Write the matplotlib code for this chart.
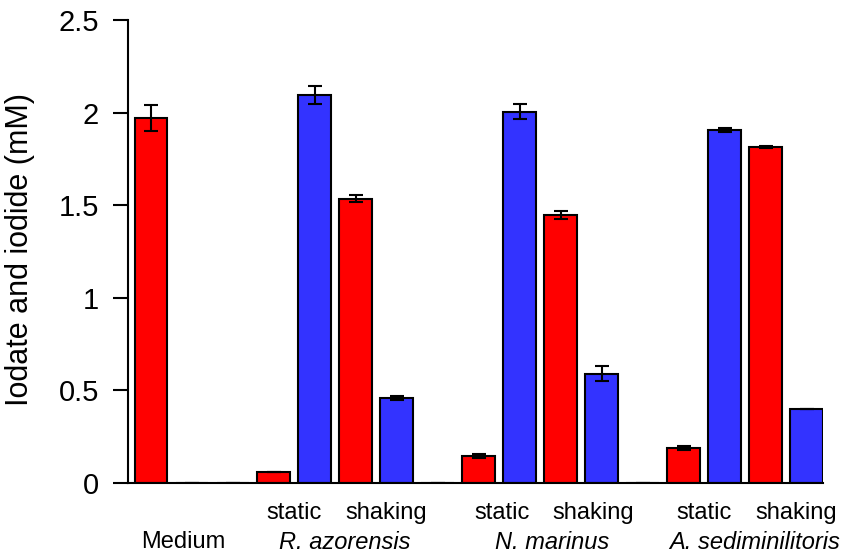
import matplotlib.pyplot as plt
import numpy as np

plt.rcParams['font.family'] = ['Liberation Sans', 'DejaVu Sans']

# one slot per bar, zero-height slots are the gaps between groups
values = [1.97, 0.0, 0.0,
          0.06, 2.095, 1.535, 0.46, 0.0,
          0.145, 2.005, 1.447, 0.59, 0.0,
          0.19, 1.905, 1.812, 0.40]
errors = [0.07, 0.0, 0.0,
          0.0, 0.05, 0.02, 0.01, 0.0,
          0.01, 0.04, 0.02, 0.04, 0.0,
          0.01, 0.01, 0.005, 0.0]
colors = ["red", "blue", "blue",
          "red", "blue", "red", "blue", "blue",
          "red", "blue", "red", "blue", "blue",
          "red", "blue", "red", "blue"]
cond_labels = ["static", "shaking", "static", "shaking", "static", "shaking"]
cond_pos = [3.5, 5.73, 8.57, 10.78, 13.5, 15.75]
group_labels = ["Medium", "R. azorensis", "N. marinus", "A. sediminilitoris"]
group_pos = [0.8, 4.73, 9.78, 14.73]
group_italic = [False, True, True, True]

palette = {"red": "#ff0000", "blue": "#3333ff"}

fig = plt.figure(figsize=(8.51, 5.57), dpi=100)
ax = fig.add_axes([128 / 851, 74 / 557, 695 / 851, 463 / 557])

x = np.arange(len(values))
ax.bar(x, values, width=0.8, color=[palette[c] for c in colors],
       edgecolor="black", linewidth=1.5, zorder=2)
ax.errorbar(x, values, yerr=errors, fmt="none", ecolor="black",
            elinewidth=1.5, capsize=5, capthick=1.5, zorder=3)

ax.set_xlim(-0.56, 16.4)
ax.set_ylim(0, 2.5)
ax.set_yticks([0, 0.5, 1, 1.5, 2, 2.5])
ax.set_yticklabels(["0", "0.5", "1", "1.5", "2", "2.5"])
ax.set_xticks([])
ax.spines["top"].set_visible(False)
ax.spines["right"].set_visible(False)
ax.spines["left"].set_linewidth(1.5)
ax.spines["bottom"].set_linewidth(1.5)
ax.tick_params(axis="y", direction="out", length=11, width=1.5,
               labelsize=21, pad=10)

fig.text(20 / 851, 1 - 249 / 557, "Iodate and iodide (mM)", rotation=90,
         ha="center", va="center", fontsize=22)

for lab, p in zip(cond_labels, cond_pos):
    ax.text(p, -0.162, lab, ha="center", va="center", fontsize=17)
for lab, p, it in zip(group_labels, group_pos, group_italic):
    ax.text(p, -0.319, lab, ha="center", va="center", fontsize=17,
            style="italic" if it else "normal")

fig.savefig("out.png", dpi=100)
